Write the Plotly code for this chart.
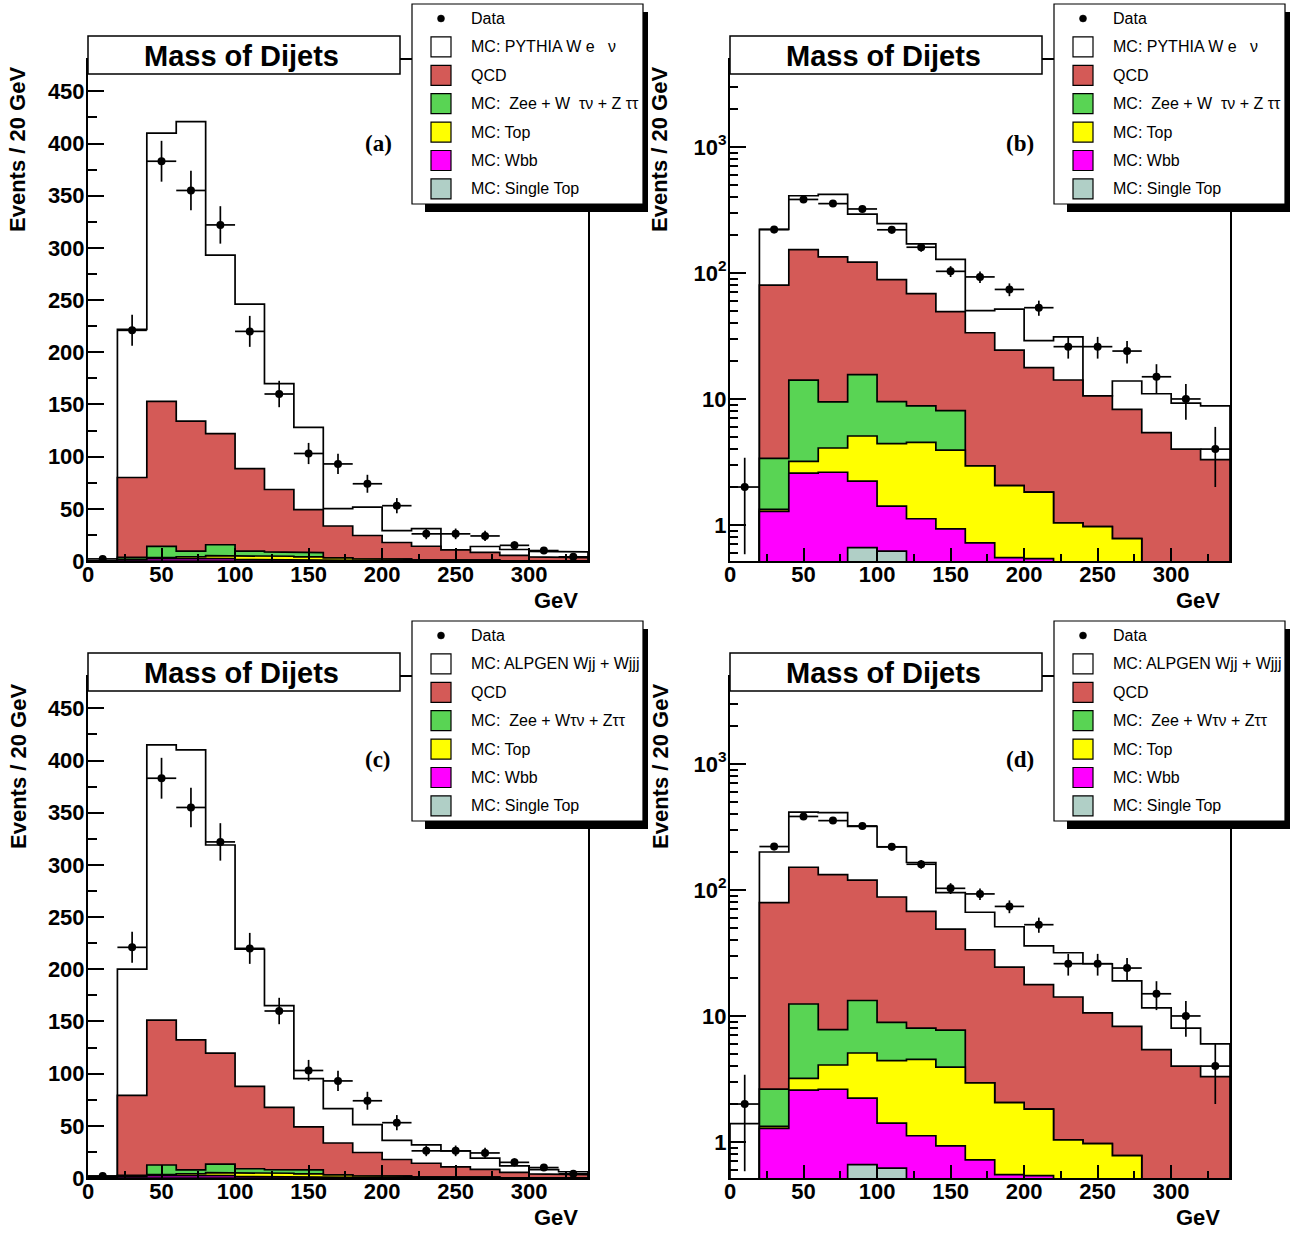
import math
import plotly.graph_objects as go

W, H = 1293, 1233

# ---------------- data (events / 20 GeV) ----------------
bin_edges = [0, 20, 40, 60, 80, 100, 120, 140, 160, 180, 200, 220, 240, 260, 280, 300, 320, 340]
data_counts = [2, 221, 383, 355, 322, 220, 160, 103, 93, 74, 53, 26, 26, 24, 15, 10, 4]
w_pythia = [0, 142, 257, 287, 171, 157.5, 101.5, 78.7, 16.7, 27.1, 11.3, 16.9, 0, 5.6, 5.6, 5.25, 5.5]
w_alpgen = [1.4, 120.8, 263.7, 277.8, 199.4, 131.3, 97.4, 46.2, 33, 26.6, 18.3, 17.6, 15.4, 10.7, 6.2, 4.0, 2.7]
qcd = [0, 76.6, 138.9, 124.5, 106.4, 79.0, 59.7, 41.2, 30.6, 22.4, 15.9, 13.1, 9.6, 7.5, 5.4, 4.0, 3.3]
ewk_pythia = [0, 2.05, 10.9, 5.39, 10.5, 5.1, 4.27, 4.16, 0, 0, 0, 0, 0, 0, 0, 0, 0]
ewk_alpgen = [0, 1.3, 9.24, 3.71, 8.18, 4.46, 3.47, 3.81, 0, 0, 0, 0, 0, 0, 0, 0, 0]
top = [0, 0.05, 0.62, 1.46, 2.85, 3.01, 3.41, 2.99, 2.22, 1.5, 1.28, 1.04, 0.97, 0.78, 0, 0, 0]
wbb = [0, 1.28, 2.58, 2.62, 1.57, 0.79, 1.12, 0.93, 0.72, 0.55, 0.54, 0, 0, 0, 0, 0, 0]
single_top = [0, 0, 0, 0, 0.66, 0.62, 0, 0, 0, 0, 0, 0, 0, 0, 0, 0, 0]

legend_pythia = ["Data", "MC: PYTHIA W e\u00a0\u00a0 \u03bd", "QCD",
                 "MC:\u00a0 Zee + W\u00a0 \u03c4\u03bd + Z \u03c4\u03c4", "MC: Top", "MC: Wbb", "MC: Single Top"]
legend_alpgen = ["Data", "MC: ALPGEN Wjj + Wjjj", "QCD",
                 "MC:\u00a0 Zee + W\u03c4\u03bd + Z\u03c4\u03c4", "MC: Top", "MC: Wbb", "MC: Single Top"]

# ---------------- styles ----------------
C_W = "#ffffff"
C_QCD = "#d45a57"
C_EWK = "#59d454"
C_TOP = "#ffff00"
C_WBB = "#ff00ff"
C_ST = "#b0cfc6"
layer_colors = [C_W, C_QCD, C_EWK, C_TOP, C_WBB, C_ST]

SANS = "Liberation Sans"
SERIF = "Liberation Serif"


def px(x):
    return x / W


def py(y):
    return 1 - y / H


def cumsum_layers(layers):
    out = []
    run = [0.0] * len(layers[0])
    for lay in layers:
        run = [a + b for a, b in zip(run, lay)]
        out.append(run)
    return out


def step_xy(vals, floor):
    xs = [bin_edges[0]]
    ys = [floor]
    for i, v in enumerate(vals):
        v = v if v > floor else floor
        xs += [bin_edges[i], bin_edges[i + 1]]
        ys += [v, v]
    xs.append(bin_edges[-1])
    ys.append(floor)
    return xs, ys


centers = [(bin_edges[i] + bin_edges[i + 1]) / 2 for i in range(len(data_counts))]
errs = [math.sqrt(n) for n in data_counts]

fig = go.Figure()
layout = dict(template="none", width=W, height=H, margin=dict(l=0, r=0, t=0, b=0, pad=0),
              paper_bgcolor="white", plot_bgcolor="white", showlegend=False)
shapes = []
annotations = []

panels = [
    ("(a)", 0, 0, False, w_pythia, ewk_pythia, legend_pythia),
    ("(b)", 1, 0, True, w_pythia, ewk_pythia, legend_pythia),
    ("(c)", 0, 1, False, w_alpgen, ewk_alpgen, legend_alpgen),
    ("(d)", 1, 1, True, w_alpgen, ewk_alpgen, legend_alpgen),
]

log_minor = []
for dec in [0.1, 1, 10, 100, 1000]:
    for m in range(2, 10):
        log_minor.append(m * dec)

for k, (tag, col, row, islog, wvals, ewkvals, labels) in enumerate(panels):
    ox = col * 642
    oy = row * 617
    x0, x1 = 88 + ox, 588 + ox
    yt, yb = 60 + oy, 561 + oy
    xa = "x" if k == 0 else f"x{k + 1}"
    ya = "y" if k == 0 else f"y{k + 1}"
    floor = 1e-3 if islog else 0

    c_st, c_wbb, c_top, c_ewk, c_qcd, c_tot = cumsum_layers([single_top, wbb, top, ewkvals, qcd, wvals])
    for vals, color in zip([c_tot, c_qcd, c_ewk, c_top, c_wbb, c_st], layer_colors):
        xs, ys = step_xy(vals, floor)
        fig.add_trace(go.Scatter(x=xs, y=ys, xaxis=xa, yaxis=ya, mode="lines", fill="toself",
                                 fillcolor=color, line=dict(color="black", width=1.7),
                                 hoverinfo="skip"))
    fig.add_trace(go.Scatter(x=centers, y=data_counts, xaxis=xa, yaxis=ya, mode="markers",
                             marker=dict(color="black", size=8),
                             error_y=dict(type="data", array=errs, color="black", thickness=1.7, width=0),
                             error_x=dict(type="constant", value=10, color="black", thickness=1.7, width=0)))

    tickfont = dict(family=SANS, size=22, color="black", weight="bold")
    xkey = "xaxis" if k == 0 else f"xaxis{k + 1}"
    ykey = "yaxis" if k == 0 else f"yaxis{k + 1}"
    layout[xkey] = dict(domain=[px(x0), px(x1)], anchor=ya, range=[0, 340], automargin=False,
                        showline=True, linecolor="black", linewidth=2, mirror=True,
                        ticks="inside", ticklen=13, tickwidth=2, tickcolor="black",
                        tickmode="linear", tick0=0, dtick=50, ticklabelstandoff=-7,
                        minor=dict(ticks="inside", ticklen=7, tickwidth=1.5, tickcolor="black",
                                   tick0=0, dtick=25, showgrid=False),
                        showgrid=False, zeroline=False, tickfont=tickfont)
    ydict = dict(domain=[py(yb), py(yt)], anchor=xa, showline=True, linecolor="black",
                 linewidth=2, mirror=True, ticks="inside", ticklen=16, tickwidth=2, automargin=False,
                 tickcolor="black", showgrid=False, zeroline=False, tickfont=tickfont,
                 ticklabelstandoff=-3)
    if islog:
        ydict.update(type="log", range=[-0.286, 3.69], tickmode="array",
                     tickvals=[1, 10, 100, 1000],
                     ticktext=["1", "10", "10<sup>2</sup>", "10<sup>3</sup>"],
                     minor=dict(tickmode="array", tickvals=log_minor, ticks="inside", ticklen=8,
                                tickwidth=1.5, tickcolor="black", showgrid=False))
    else:
        ydict.update(range=[0, 480], tickmode="linear", tick0=0, dtick=50,
                     minor=dict(ticks="inside", ticklen=9, tickwidth=1.5, tickcolor="black",
                                tick0=0, dtick=25, showgrid=False))
    layout[ykey] = ydict

    # title box
    tb = (88 + ox, 36 + oy, 400 + ox, 74 + oy)
    shapes.append(dict(type="rect", xref="paper", yref="paper", x0=px(tb[0]), x1=px(tb[2]),
                       y0=py(tb[3]), y1=py(tb[1]), fillcolor="white",
                       line=dict(color="black", width=1.5), layer="above"))
    annotations.append(dict(xref="paper", yref="paper", x=px(241 + ox), y=py(56 + oy),
                            text="<b>Mass of Dijets</b>", showarrow=False,
                            xanchor="center", yanchor="middle",
                            font=dict(family=SANS, size=29, color="black")))
    # panel tag
    annotations.append(dict(xref="paper", yref="paper", x=px(378 + ox), y=py(143 + oy),
                            text=f"<b>{tag}</b>", showarrow=False, xanchor="center", yanchor="middle",
                            font=dict(family=SERIF, size=23, color="black")))
    # axis titles
    annotations.append(dict(xref="paper", yref="paper", x=px(18 + ox), y=py(150 + oy),
                            text="<b>Events / 20 GeV</b>", showarrow=False, textangle=-90,
                            xanchor="center", yanchor="middle",
                            font=dict(family=SANS, size=22, color="black")))
    annotations.append(dict(xref="paper", yref="paper", x=px(580 + ox), y=py(600 + oy),
                            text="<b>GeV</b>", showarrow=False, xanchor="right", yanchor="middle",
                            font=dict(family=SANS, size=22, color="black")))

    # legend
    lx0, ly0, lx1, ly1 = 412 + ox, 4 + oy, 643 + ox, 204 + oy
    shapes.append(dict(type="rect", xref="paper", yref="paper", x0=px(lx0 + 13), x1=px(lx1 + 5),
                       y0=py(ly1 + 8), y1=py(ly1), fillcolor="black", line=dict(width=0), layer="above"))
    shapes.append(dict(type="rect", xref="paper", yref="paper", x0=px(lx1), x1=px(lx1 + 5),
                       y0=py(ly1 + 8), y1=py(ly0 + 8), fillcolor="black", line=dict(width=0), layer="above"))
    shapes.append(dict(type="rect", xref="paper", yref="paper", x0=px(lx0), x1=px(lx1),
                       y0=py(ly1), y1=py(ly0), fillcolor="white",
                       line=dict(color="black", width=1.2), layer="above"))
    sw_colors = [None, C_W, C_QCD, C_EWK, C_TOP, C_WBB, C_ST]
    for j, (lab, colr) in enumerate(zip(labels, sw_colors)):
        cy = 18.5 + oy + j * 28.4
        cx = 441 + ox
        if colr is None:
            shapes.append(dict(type="circle", xref="paper", yref="paper", x0=px(cx - 3.5), x1=px(cx + 3.5),
                               y0=py(cy + 3.5), y1=py(cy - 3.5), fillcolor="black",
                               line=dict(color="black", width=0.5), layer="above"))
        else:
            shapes.append(dict(type="rect", xref="paper", yref="paper", x0=px(cx - 10), x1=px(cx + 10),
                               y0=py(cy + 10), y1=py(cy - 10), fillcolor=colr,
                               line=dict(color="black", width=1.2), layer="above"))
        annotations.append(dict(xref="paper", yref="paper", x=px(469 + ox), y=py(cy),
                                text=lab, showarrow=False, xanchor="left", yanchor="middle",
                                font=dict(family=SANS, size=16, color="black")))

layout["shapes"] = shapes
layout["annotations"] = annotations
fig.update_layout(**layout)

fig.write_html("out.html", config={"displayModeBar": False},
               post_script="document.body.style.margin='0';document.body.style.overflow='hidden';")
